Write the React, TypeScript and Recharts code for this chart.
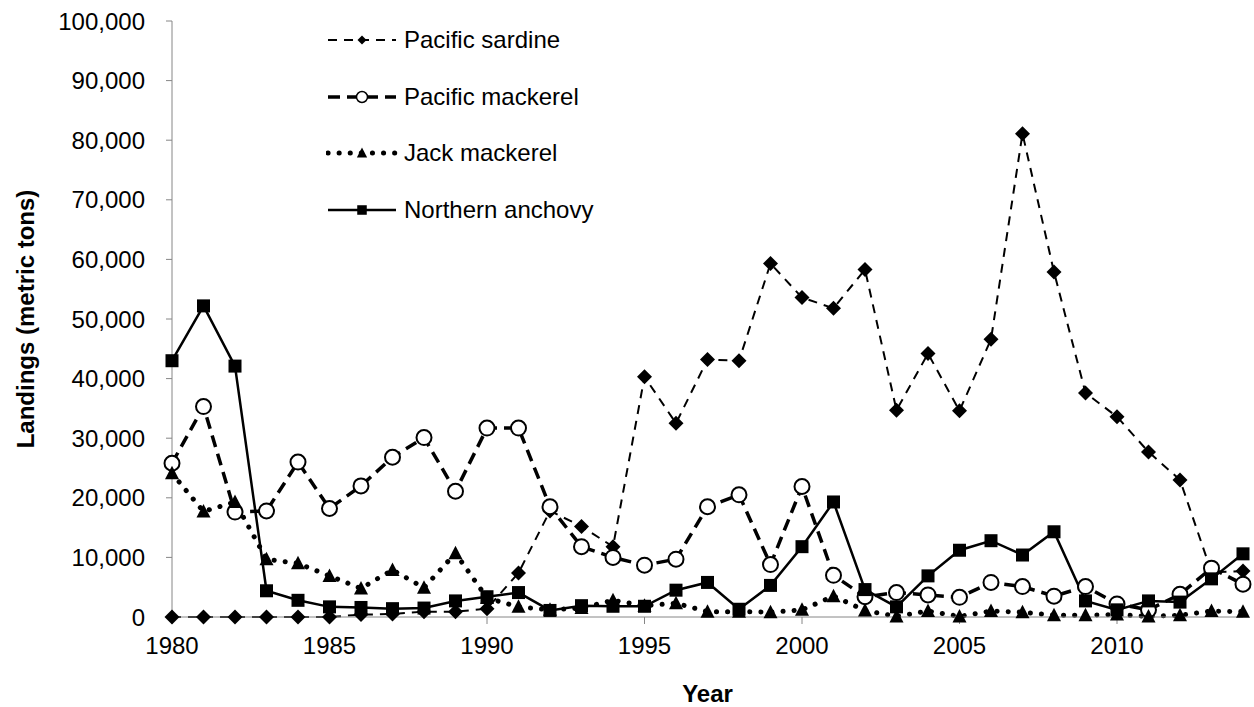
import React from 'react';
import { LineChart, Line, XAxis, YAxis, Legend } from 'recharts';

const years = [
  1980, 1981, 1982, 1983, 1984, 1985, 1986, 1987, 1988, 1989, 1990, 1991, 1992, 1993, 1994, 1995, 1996, 1997,
  1998, 1999, 2000, 2001, 2002, 2003, 2004, 2005, 2006, 2007, 2008, 2009, 2010, 2011, 2012, 2013, 2014,
];

const sardine = [
  0, 0, 0, 0, 0, 0, 400, 500, 900, 900, 1400, 7400, 17800, 15200, 11800, 40300, 32500, 43200, 43000, 59300,
  53600, 51800, 58300, 34700, 44200, 34600, 46600, 81100, 57900, 37600, 33600, 27700, 23000, 7500, 7700,
];

const pacMackerel = [
  25800, 35300, 17600, 17800, 26000, 18200, 22000, 26800, 30100, 21100, 31700, 31700, 18500, 11800, 10000, 8700,
  9700, 18500, 20500, 8800, 21900, 7000, 3400, 4100, 3700, 3300, 5800, 5100, 3500, 5100, 2200, 1200, 3800, 8200,
  5500,
];

const jackMackerel = [
  24100, 17700, 19300, 9700, 9000, 6900, 4800, 7900, 4900, 10700, 3200, 1700, 1200, 1500, 2800, 1900, 2300, 900,
  900, 800, 1200, 3500, 1100, 100, 1000, 100, 1000, 800, 300, 300, 400, 100, 300, 1000, 900,
];

const anchovy = [
  43000, 52200, 42100, 4400, 2800, 1700, 1600, 1400, 1500, 2700, 3400, 4100, 1100, 1900, 1800, 1800, 4500, 5800,
  1300, 5300, 11800, 19300, 4600, 1700, 6900, 11200, 12800, 10400, 14300, 2700, 1200, 2700, 2500, 6400, 10600,
];

const xTicks = [1980, 1985, 1990, 1995, 2000, 2005, 2010];
const yTicks = [0, 10000, 20000, 30000, 40000, 50000, 60000, 70000, 80000, 90000, 100000];

const data = years.map((year, i) => ({
  year,
  sardine: sardine[i],
  pacMackerel: pacMackerel[i],
  jackMackerel: jackMackerel[i],
  anchovy: anchovy[i],
}));

const FONT = '"Liberation Sans", Arial, sans-serif';
const AXIS = '#868686';
const FS = 24;

// marker shapes
const diamond = (cx, cy, key?) => (
  <path key={key} d={`M${cx},${cy - 7.5}L${cx + 7.5},${cy}L${cx},${cy + 7.5}L${cx - 7.5},${cy}Z`} fill="#000" />
);
const circle = (cx, cy, key?) => (
  <circle key={key} cx={cx} cy={cy} r={7.5} fill="#fff" stroke="#000" strokeWidth={2} />
);
const triangle = (cx, cy, key?) => (
  <path key={key} d={`M${cx},${cy - 7.5}L${cx + 7},${cy + 6}L${cx - 7},${cy + 6}Z`} fill="#000" />
);
const square = (cx, cy, key?) => <rect key={key} x={cx - 6.5} y={cy - 6.5} width={13} height={13} fill="#000" />;

const dotFn = (shape) => (p) => {
  if (p.cx == null || p.cy == null) return null;
  return shape(p.cx, p.cy, `m-${p.dataKey}-${p.index}`);
};

const series = [
  { key: 'sardine', name: 'Pacific sardine', shape: diamond, width: 2, dash: '9 7', cap: 'butt', mini: 4.5 },
  { key: 'pacMackerel', name: 'Pacific mackerel', shape: circle, width: 3.5, dash: '12 7', cap: 'butt', mini: 5.5 },
  { key: 'jackMackerel', name: 'Jack mackerel', shape: triangle, width: 5, dash: '0.1 11', cap: 'round', mini: 5.5 },
  { key: 'anchovy', name: 'Northern anchovy', shape: square, width: 2.5, dash: undefined, cap: 'butt', mini: 5.5 },
];

const renderLegend = () => (
  <div style={{ fontFamily: FONT, fontSize: FS, color: '#000' }}>
    {series.map((s) => (
      <div key={s.key} style={{ display: 'flex', alignItems: 'center', height: 56.5 }}>
        <svg width={72} height={24} style={{ marginRight: 6 }}>
          <line
            x1={2}
            y1={12}
            x2={70}
            y2={12}
            stroke="#000"
            strokeWidth={s.width}
            strokeDasharray={s.dash}
            strokeLinecap={s.cap as any}
          />
          <g transform={`translate(36,12) scale(${s.mini / 7.5})`}>{s.shape(0, 0)}</g>
        </svg>
        <span>{s.name}</span>
      </div>
    ))}
  </div>
);

export default function App() {
  return (
    <div style={{ position: 'absolute', left: 0, top: 0, width: 1254, height: 707, background: '#fff' }}>
      <LineChart width={1254} height={707} data={data} margin={{ top: 21, right: 11, left: 0, bottom: 0 }}>
        <XAxis
          dataKey="year"
          type="number"
          domain={[1980, 2014]}
          ticks={xTicks}
          allowDecimals={false}
          height={90}
          stroke={AXIS}
          tickSize={7}
          tickMargin={13}
          tick={{ fill: '#000', fontSize: FS, fontFamily: FONT }}
          label={{
            value: 'Year',
            position: 'insideBottom',
            offset: 5,
            style: { fill: '#000', fontSize: FS, fontWeight: 'bold', fontFamily: FONT },
          }}
        />
        <YAxis
          type="number"
          domain={[0, 100000]}
          ticks={yTicks}
          width={172}
          stroke={AXIS}
          tickSize={6}
          tickMargin={21}
          tickFormatter={(v) => v.toLocaleString('en-US')}
          tick={{ fill: '#000', fontSize: FS, fontFamily: FONT }}
          label={{
            value: 'Landings (metric tons)',
            angle: -90,
            position: 'insideLeft',
            offset: 25,
            style: { fill: '#000', fontSize: FS, fontWeight: 'bold', fontFamily: FONT, textAnchor: 'middle' },
          }}
        />
        <Legend
          layout="vertical"
          verticalAlign="middle"
          align="center"
          content={renderLegend}
          wrapperStyle={{ left: 326, top: 12, width: 380 }}
        />
        {series.map((s) => (
          <Line
            key={s.key}
            dataKey={s.key}
            name={s.name}
            type="linear"
            stroke="#000"
            strokeWidth={s.width}
            strokeDasharray={s.dash}
            strokeLinecap={s.cap as any}
            dot={dotFn(s.shape)}
            activeDot={false}
            isAnimationActive={false}
          />
        ))}
      </LineChart>
    </div>
  );
}
